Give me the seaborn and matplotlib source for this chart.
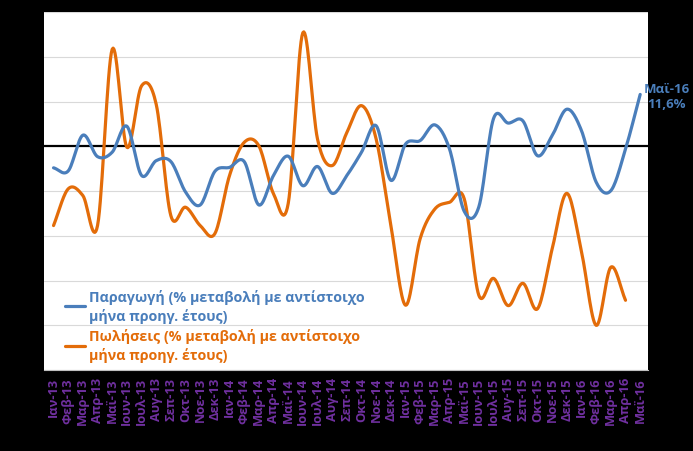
import numpy as np
import pandas as pd
import seaborn as sns
import matplotlib.pyplot as plt

# monthly data, % change vs same month of previous year
months = ["Ιαν-13", "Φεβ-13", "Μαρ-13", "Απρ-13", "Μαϊ-13", "Ιουν-13", "Ιουλ-13", "Αυγ-13",
          "Σεπ-13", "Οκτ-13", "Νοε-13", "Δεκ-13", "Ιαν-14", "Φεβ-14", "Μαρ-14", "Απρ-14",
          "Μαϊ-14", "Ιουν-14", "Ιουλ-14", "Αυγ-14", "Σεπ-14", "Οκτ-14", "Νοε-14", "Δεκ-14",
          "Ιαν-15", "Φεβ-15", "Μαρ-15", "Απρ-15", "Μαϊ-15", "Ιουν-15", "Ιουλ-15", "Αυγ-15",
          "Σεπ-15", "Οκτ-15", "Νοε-15", "Δεκ-15", "Ιαν-16", "Φεβ-16", "Μαρ-16", "Απρ-16",
          "Μαϊ-16"]

production = [-4.8, -5.5, 2.5, -2.3, -1.3, 4.5, -6.5, -3.2, -3.4, -10.2, -13.1, -5.6,
              -4.7, -3.4, -13.1, -6.5, -2.2, -8.8, -4.5, -10.5, -6.5, -1.3, 4.6, -7.6,
              0.5, 1.3, 4.8, -0.6, -14.5, -13.5, 6.2, 5.2, 5.7, -2.1, 2.4, 8.3,
              3.5, -8.0, -9.9, -0.6, 11.6]

sales = [-17.7, -9.5, -11.0, -17.7, 21.7, -0.2, 13.5, 9.4, -15.5, -13.6, -17.7, -19.5,
         -6.5, 0.9, 0.1, -10.6, -12.8, 25.4, 1.6, -4.3, 3.1, 9.1, 1.6, -17.7,
         -35.5, -20.6, -14.0, -12.5, -11.7, -33.3, -29.5, -35.6, -30.6, -36.3, -22.9, -10.5,
         -23.6, -40.0, -27.0, -34.4]

label_prod = "Παραγωγή (% μεταβολή με αντίστοιχο\nμήνα προηγ. έτους)"
label_sales = "Πωλήσεις (% μεταβολή με αντίστοιχο\nμήνα προηγ. έτους)"

BLUE = "#4a7ebb"
ORANGE = "#e36c09"
PURPLE = "#7030a0"


def smooth(vals, n=16):
    # Catmull-Rom spline through the points, like Excel's smoothed line
    pts = np.column_stack([np.arange(len(vals), dtype=float), np.asarray(vals, float)])
    pts = np.vstack([2 * pts[0] - pts[1], pts, 2 * pts[-1] - pts[-2]])
    t = np.linspace(0, 1, n, endpoint=False)[:, None]
    segs = []
    for i in range(1, len(pts) - 2):
        p0, p1, p2, p3 = pts[i - 1:i + 3]
        segs.append(0.5 * (2 * p1 + (p2 - p0) * t
                           + (2 * p0 - 5 * p1 + 4 * p2 - p3) * t ** 2
                           + (3 * p1 - p0 - 3 * p2 + p3) * t ** 3))
    segs.append(pts[-2][None, :])
    xy = np.vstack(segs)
    return pd.DataFrame({"x": xy[:, 0], "y": xy[:, 1]})


sns.set_style("white")
plt.rcParams["font.family"] = ["Open Sans", "DejaVu Sans"]

fig = plt.figure(figsize=(6.93, 4.52), dpi=100, facecolor="black")
ax = fig.add_axes([0.0635, 0.179, 0.8715, 0.792])
ax.set_facecolor("white")

for y in range(-50, 31, 10):
    if y != 0:
        ax.axhline(y, color="#d9d9d9", lw=0.8, zorder=0)
ax.axhline(0, color="black", lw=1.6, zorder=1)

sns.lineplot(data=smooth(production), x="x", y="y", sort=False, color=BLUE, lw=2.3,
             label=label_prod, ax=ax, zorder=3)
sns.lineplot(data=smooth(sales), x="x", y="y", sort=False, color=ORANGE, lw=2.3,
             label=label_sales, ax=ax, zorder=2)

ax.set_xlim(-0.65, 40.53)
ax.set_ylim(-50, 30)
ax.set_yticks(range(-50, 31, 10))
ax.set_yticklabels([])
ax.tick_params(axis="y", length=4, color="#808080", direction="out")
ax.set_xticks(range(len(months)))
ax.set_xticklabels(months, rotation=90, color=PURPLE, fontsize=9.3, fontweight="bold")
ax.tick_params(axis="x", length=0, pad=5)
ax.set_xlabel("")
ax.set_ylabel("")
for side in ["top", "right", "left"]:
    ax.spines[side].set_visible(False)
ax.spines["bottom"].set_color("#bfbfbf")

ax.annotate("Μαϊ-16\n11,6%", xy=(40, production[-1]), xytext=(19, -1),
            textcoords="offset points", ha="center", va="center", color=BLUE,
            fontsize=9.5, fontweight="bold", annotation_clip=False, linespacing=1.25)

leg = ax.legend(loc="upper left", bbox_to_anchor=(0.014, 0.263), frameon=False,
                handlelength=1.4, handletextpad=0.25, labelspacing=0.35,
                prop={"size": 10.3, "weight": "bold"})
for text, c in zip(leg.get_texts(), [BLUE, ORANGE]):
    text.set_color(c)
    text.set_linespacing(1.35)

fig.savefig("out.png", dpi=100, facecolor="black")
